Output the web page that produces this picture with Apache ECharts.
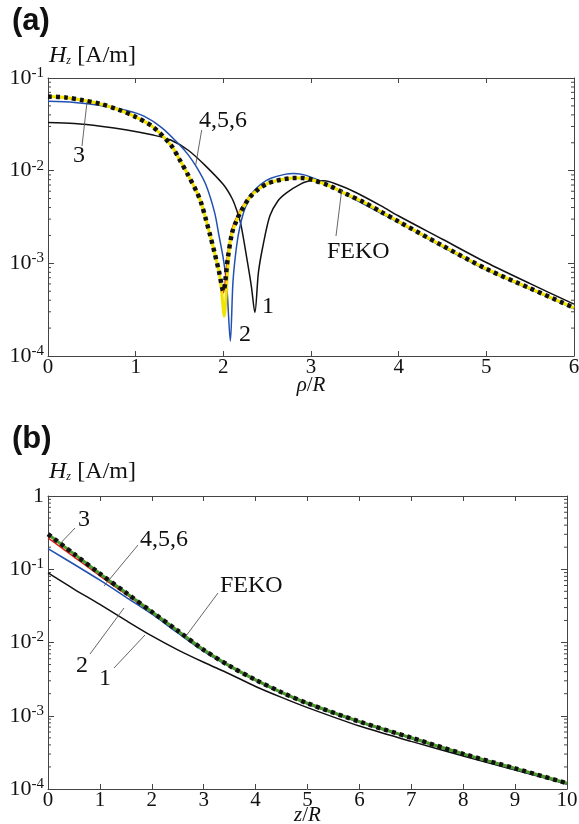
<!DOCTYPE html>
<html><head><meta charset="utf-8">
<script src="https://cdn.jsdelivr.net/npm/echarts/dist/echarts.min.js"></script>
<style>html,body{margin:0;padding:0;background:#fff}#c{width:579px;height:824px}</style>
</head><body><div id="c"></div>
<script>
// ---------- Panel (a): Hz vs rho/R ----------
const rhoFeko = [0,0.2,0.4,0.6,0.8,1.0,1.2,1.4,1.5,1.6,1.7,1.75,1.8,1.85,1.9,1.95,2.0,2.05,2.1,2.15,2.2,2.3,2.4,2.5,2.6,2.7,2.8,2.9,3.0,3.2,3.4,3.6,3.8,4.0,4.5,5.0,5.5,6.0];
const hzFekoA = [0.0631,0.0617,0.0575,0.0525,0.0457,0.0380,0.0295,0.0190,0.0132,0.0089,0.0058,0.0044,0.00300,0.00200,0.00130,0.000820,0.000501,0.00112,0.00214,0.00288,0.00363,0.00513,0.00631,0.00724,0.00776,0.00813,0.00832,0.00832,0.00804,0.00692,0.00562,0.00457,0.00359,0.00282,0.00155,0.000871,0.000537,0.000331];
const hzRedA  = [0.0625,0.0612,0.0572,0.0523,0.0456,0.0379,0.0294,0.0190,0.0132,0.0089,0.0058,0.0044,0.00300,0.00200,0.00130,0.000820,0.000480,0.00125,0.00235,0.00310,0.00385,0.00530,0.00640,0.00728,0.00778,0.00814,0.00832,0.00832,0.00804,0.00692,0.00562,0.00457,0.00359,0.00282,0.00155,0.000871,0.000537,0.000331];
const rhoYellow = [0,0.2,0.4,0.6,0.8,1.0,1.2,1.4,1.5,1.6,1.7,1.75,1.8,1.85,1.9,1.95,1.98,2.01,2.04,2.07,2.1,2.15,2.2,2.3,2.4,2.5,2.6,2.7,2.8,2.9,3.0,3.2,3.4,3.6,3.8,4.0,4.5,5.0,5.5,6.0];
const hzYellowA = [0.0631,0.0617,0.0575,0.0525,0.0457,0.0380,0.0295,0.0190,0.0132,0.0089,0.0058,0.0044,0.00300,0.00200,0.00130,0.000820,0.000500,0.000269,0.000600,0.00150,0.00214,0.00288,0.00363,0.00513,0.00631,0.00724,0.00776,0.00813,0.00832,0.00832,0.00804,0.00692,0.00562,0.00457,0.00359,0.00282,0.00155,0.000871,0.000537,0.000331];
const rhoBlue = [0,0.3,0.6,0.9,1.1,1.3,1.5,1.6,1.7,1.8,1.9,1.95,2.0,2.04,2.08,2.11,2.15,2.19,2.25,2.34,2.45,2.55,2.7,2.8,2.9,3.0,3.15,3.3,3.5,3.8,4.0,4.5,5.0,5.5,6.0];
const hzBlueA = [0.0560,0.0545,0.0505,0.0445,0.0385,0.0290,0.0190,0.0148,0.0107,0.00708,0.00355,0.00200,0.00112,0.000562,0.000145,0.000631,0.00151,0.00251,0.00398,0.00589,0.00741,0.00832,0.00912,0.00933,0.00912,0.00851,0.00741,0.00617,0.00490,0.00347,0.00275,0.00151,0.000851,0.000525,0.000324];
const rhoBlack = [0,0.3,0.6,0.9,1.2,1.4,1.6,1.8,2.0,2.1,2.15,2.2,2.27,2.32,2.36,2.40,2.45,2.53,2.62,2.72,2.87,3.0,3.15,3.3,3.5,3.8,4.0,4.5,5.0,5.5,6.0];
const hzBlackA = [0.0330,0.0322,0.0302,0.0275,0.0242,0.0214,0.0166,0.0112,0.00708,0.00501,0.00380,0.00263,0.00110,0.000562,0.000295,0.000794,0.00151,0.00324,0.00468,0.00575,0.00708,0.00776,0.00776,0.00708,0.00589,0.00417,0.00324,0.00182,0.00102,0.000603,0.000363];

// ---------- Panel (b): Hz vs z/R ----------
const zPos = [0,0.5,1,1.5,2,2.5,3,3.5,4,4.5,5,6,7,8,9,10];
const hzFekoB  = [0.302,0.162,0.0871,0.0479,0.0263,0.0145,0.00794,0.00479,0.00309,0.00209,0.00148,0.000832,0.000501,0.000302,0.000191,0.000120];
const hzGreenB = [0.300,0.162,0.0871,0.0479,0.0263,0.0145,0.00794,0.00479,0.00309,0.00209,0.00148,0.000832,0.000501,0.000302,0.000191,0.000120];
const hzRedB   = [0.269,0.148,0.0813,0.0457,0.0257,0.0145,0.00794,0.00479,0.00309,0.00209,0.00148,0.000832,0.000501,0.000302,0.000191,0.000120];
const hzBlueB  = [0.191,0.117,0.0708,0.0417,0.0245,0.0135,0.00759,0.00468,0.00302,0.00204,0.00145,0.000813,0.000490,0.000295,0.000186,0.000117];
const hzBlackB = [0.0891,0.0537,0.0331,0.0200,0.0123,0.00794,0.00537,0.00372,0.00251,0.00178,0.00129,0.000724,0.000447,0.000282,0.000182,0.000117];

// minor tick values of the log axes
const minorTicksA = [2e-4,3e-4,4e-4,5e-4,6e-4,7e-4,8e-4,9e-4,2e-3,3e-3,4e-3,5e-3,6e-3,7e-3,8e-3,9e-3,2e-2,3e-2,4e-2,5e-2,6e-2,7e-2,8e-2,9e-2];
const minorTicksB = minorTicksA.concat([0.2,0.3,0.4,0.5,0.6,0.7,0.8,0.9]);

const SERIF = '"Liberation Serif", "DejaVu Serif", serif';
const AX = '#444';
const pairs = (xs, ys) => xs.map((x, i) => [x, ys[i]]);

function xAx(gi, max, pos, showLabel, name, gap) {
  return {
    type: 'value', gridIndex: gi, min: 0, max: max, interval: 1, position: pos,
    axisLine: { show: true, onZero: false, lineStyle: { color: AX, width: 1 } },
    axisTick: { show: true, inside: true, length: 5, lineStyle: { color: AX } },
    axisLabel: { show: showLabel, color: '#111', fontFamily: SERIF, fontSize: 21, margin: 1 },
    splitLine: { show: false },
    name: name || '', nameLocation: 'middle', nameGap: gap || 10, nameMoveOverlap: false,
    nameTextStyle: { color: '#111', fontFamily: SERIF, fontSize: 21, lineHeight: 21,
      rich: { i: { fontStyle: 'italic', fontFamily: SERIF, fontSize: 21, lineHeight: 21, color: '#111' } } }
  };
}
function yAx(gi, min, max, pos, showLabel) {
  return {
    type: 'log', logBase: 10, gridIndex: gi, min: min, max: max, interval: 1, position: pos,
    axisLine: { show: true, onZero: false, lineStyle: { color: AX, width: 1 } },
    axisTick: { show: true, inside: true, length: 6, lineStyle: { color: AX } },
    axisLabel: {
      show: showLabel, margin: 4, color: '#111',
      formatter: function (v) {
        const e = Math.round(Math.log10(v));
        if (e === 0) return '{n|1}';
        return '{n|10}{s|' + e + '}';
      },
      rich: {
        n: { fontFamily: SERIF, fontSize: 22, color: '#111' },
        s: { fontFamily: SERIF, fontSize: 15, color: '#111', padding: [0, 0, 10, 0] }
      }
    },
    splitLine: { show: false }
  };
}
function minorSeries(xi, yi, xmax, vals) {
  return {
    type: 'custom', xAxisIndex: xi, yAxisIndex: yi, silent: true, z: 1,
    data: vals.map(v => [0, v]),
    renderItem: function (params, api) {
      const v = api.value(1);
      const pL = api.coord([0, v]);
      const pR = api.coord([xmax, v]);
      return { type: 'group', children: [
        { type: 'line', shape: { x1: pL[0], y1: pL[1], x2: pL[0] + 3, y2: pL[1] }, style: { stroke: AX, lineWidth: 1 } },
        { type: 'line', shape: { x1: pR[0], y1: pR[1], x2: pR[0] - 3, y2: pR[1] }, style: { stroke: AX, lineWidth: 1 } }
      ] };
    }
  };
}
function line(xi, yi, data, color, width, z, dash) {
  return {
    type: 'line', xAxisIndex: xi, yAxisIndex: yi, data: data, symbol: 'none', showSymbol: false,
    smooth: 0.3, z: z, silent: true, animation: false,
    lineStyle: { color: color, width: width, type: dash || 'solid', cap: 'butt' }
  };
}

const BLACK = '#111', BLUE = '#2250b0', RED = '#e0201c', YELLOW = '#f2e400', GREEN = '#4c9a2a';
const FEKO_DASH = [4, 4];

const chart = echarts.init(document.getElementById('c'), null, { renderer: 'canvas' });

function txt(left, top, text, size) {
  return { type: 'text', left: left, top: top, z: 100,
    style: { text: text, fill: '#111', font: size + 'px ' + SERIF } };
}
function lead(x1, y1, x2, y2) {
  return { type: 'line', z: 100, shape: { x1: x1, y1: y1, x2: x2, y2: y2 }, style: { stroke: '#555', lineWidth: 0.9 } };
}
const hzLabel = (top) => ({
  type: 'text', left: 49, top: top, z: 100,
  style: { text: '{h|H}{z|z} {u|[A/m]}', rich: {
    h: { fontFamily: SERIF, fontStyle: 'italic', fontSize: 24, fill: '#111' },
    z: { fontFamily: SERIF, fontStyle: 'italic', fontSize: 12, fill: '#111', padding: [10, 3, 0, 0] },
    u: { fontFamily: SERIF, fontSize: 24, fill: '#111' } } }
});

chart.setOption({
  animation: false,
  backgroundColor: '#fff',
  grid: [
    { left: 48, top: 78, width: 526, height: 278, outerBoundsMode: 'none', containLabel: false },
    { left: 48, top: 496, width: 519, height: 293, outerBoundsMode: 'none', containLabel: false }
  ],
  xAxis: [
    xAx(0, 6, 'bottom', true, '{i|ρ}/{i|R}', 19),
    xAx(0, 6, 'top', false),
    xAx(1, 10, 'bottom', true, '{i|z}/{i|R}', 16),
    xAx(1, 10, 'top', false)
  ],
  yAxis: [
    yAx(0, 1e-4, 1e-1, 'left', true),
    yAx(0, 1e-4, 1e-1, 'right', false),
    yAx(1, 1e-4, 1, 'left', true),
    yAx(1, 1e-4, 1, 'right', false)
  ],
  series: [
    minorSeries(0, 0, 6, minorTicksA),
    minorSeries(2, 2, 10, minorTicksB),
    line(0, 0, pairs(rhoBlack, hzBlackA), BLACK, 1.5, 3),
    line(0, 0, pairs(rhoBlue, hzBlueA), BLUE, 1.5, 4),
    line(0, 0, pairs(rhoFeko, hzRedA), RED, 1.5, 5),
    line(0, 0, pairs(rhoYellow, hzYellowA), YELLOW, 3, 6),
    line(0, 0, pairs(rhoFeko, hzFekoA), BLACK, 4.5, 7, FEKO_DASH),
    line(2, 2, pairs(zPos, hzBlackB), BLACK, 1.5, 3),
    line(2, 2, pairs(zPos, hzBlueB), BLUE, 1.5, 4),
    line(2, 2, pairs(zPos, hzRedB), RED, 1.5, 5),
    line(2, 2, pairs(zPos, hzGreenB), GREEN, 3, 6),
    line(2, 2, pairs(zPos, hzFekoB), BLACK, 4.5, 7, FEKO_DASH)
  ],
  graphic: [
    { type: 'text', left: 12, top: 6, z: 100, style: { text: '(a)', fill: '#111', font: 'bold 31px "Liberation Sans", Arial, sans-serif' } },
    { type: 'text', left: 12, top: 424, z: 100, style: { text: '(b)', fill: '#111', font: 'bold 31px "Liberation Sans", Arial, sans-serif' } },
    hzLabel(44),
    hzLabel(460),
    // panel (a) annotations
    txt(73, 144, '3', 24), lead(87, 102, 82, 146),
    txt(199, 109, '4,5,6', 24), lead(201.7, 130, 195.7, 165),
    txt(262, 295, '1', 24),
    txt(239, 323, '2', 24),
    txt(327, 240, 'FEKO', 24), lead(341.7, 190, 336, 236),
    // panel (b) annotations
    txt(78, 508, '3', 24), lead(75, 528, 60.7, 543),
    txt(140, 528, '4,5,6', 24), lead(138, 545, 104, 586),
    txt(220, 574, 'FEKO', 24), lead(218, 593, 186, 636),
    txt(76, 654, '2', 24), lead(90, 654, 124, 608),
    txt(99, 667, '1', 24), lead(114, 668, 145, 635)
  ]
});
</script></body></html>
